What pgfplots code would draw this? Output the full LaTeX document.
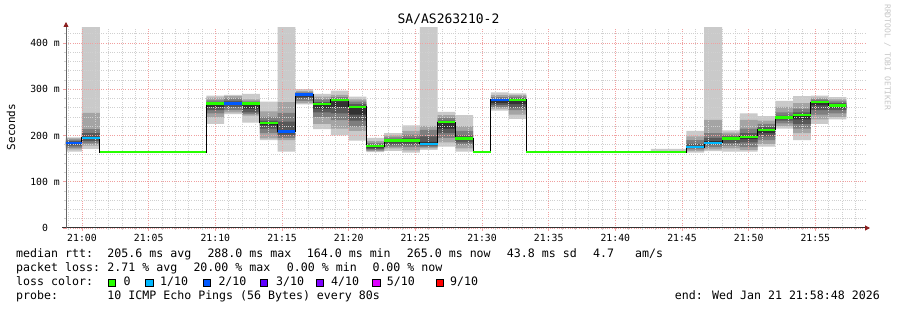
\documentclass[border=0pt]{standalone}
\usepackage{fontspec}
\usepackage{pgfplots}
\pgfplotsset{compat=1.18}
\usepackage{pgfplotstable}
\usepgfplotslibrary{fillbetween}
\usetikzlibrary{arrows.meta}
\newfontfamily\mono{DejaVu Sans Mono}
\definecolor{sm1}{RGB}{202,202,202}
\definecolor{sm2}{RGB}{164,164,164}
\definecolor{sm3}{RGB}{126,126,126}
\definecolor{sm4}{RGB}{88,88,88}
\definecolor{sm5}{RGB}{50,50,50}
\definecolor{lc0}{HTML}{26FF00}
\definecolor{lc1}{HTML}{00B8FF}
\definecolor{lc2}{HTML}{0059FF}
\definecolor{lc3}{HTML}{5E00FF}
\definecolor{lc4}{HTML}{7E00FF}
\definecolor{lc5}{HTML}{DD00FF}
\definecolor{lc9}{HTML}{FF0000}
\definecolor{mgrid}{RGB}{240,160,160}
\definecolor{ngrid}{RGB}{208,208,208}
\definecolor{arrowred}{RGB}{140,30,30}
\newcommand\lf{\mono\fontsize{11.6pt}{13pt}\selectfont}
\newcommand\tf{\mono\fontsize{9.8pt}{10pt}\selectfont}

\pgfplotstableread{
x p1 p2 p3 p4 p5 p6 p7 p8 p9 p10 med
-1.2 165 170 174 178 182 185 188 191 194 196 184
0 171 178 183 188 193 197 205 214 249 440 195
1.3333 164 164 164 164 164 164 164 164 164 164 164
2.6667 164 164 164 164 164 164 164 164 164 164 164
4 164 164 164 164 164 164 164 164 164 164 164
5.3333 164 164 164 164 164 164 164 164 164 164 164
6.6667 164 164 164 164 164 164 164 164 164 164 164
8 164 164 164 164 164 164 164 164 164 164 164
9.3333 225 239 248 255 262 270 272 276 282 286 269
10.6667 246 250 255 262 267 270 275 280 285 288 269
12 228 243 246 250 258 268 270 274 278 290 269
13.3333 190 194 205 215 222 228 232 240 252 273 227
14.6667 165 190 195 200 205 210 230 249 272 440 208
16 267 270 275 280 284 287 290 293 296 300 288
17.3333 214 225 240 250 258 268 272 278 284 290 268
18.6667 200 215 233 248 262 274 278 283 288 297 277
20 189 210 219 232 245 262 268 273 278 284 262
21.3333 164 166 168 171 174 177 180 184 188 195 177
22.6667 167 172 176 180 185 189 192 196 200 205 189
24 163 168 175 180 185 189 195 202 210 222 189
25.3333 169 172 175 178 182 186 198 212 221 440 182
26.6667 176 185 195 205 215 228 232 238 244 251 229
28 165 172 180 185 190 194 200 210 220 244 194
29.3333 164 164 164 164 164 164 164 164 164 164 164
30.6667 254 258 262 266 270 275 279 283 287 293 277
32 236 245 255 260 268 276 280 284 287 291 277
33.3333 164 164 164 164 164 164 164 164 164 164 164
34.6667 164 164 164 164 164 164 164 164 164 164 164
36 164 164 164 164 164 164 164 164 164 164 164
37.3333 164 164 164 164 164 164 164 164 164 164 164
38.6667 164 164 164 164 164 164 164 164 164 164 164
40 164 164 164 164 164 164 164 164 164 164 164
41.3333 164 164 164 164 164 164 164 164 164 164 164
42.6667 164 164 164 164 164 164 164 164 164 171 164
44 164 164 164 164 164 164 164 164 164 171 164
45.3333 163 166 170 173 175 177 182 190 198 210 175
46.6667 166 170 175 180 184 188 195 205 234 440 184
48 165 172 178 184 190 194 198 202 206 211 194
49.3333 165 169 175 185 192 197 205 215 234 248 197
50.6667 176 182 190 198 205 212 218 225 232 242 212
52 215 220 226 232 236 239 243 250 262 275 239
53.3333 190 205 215 225 235 244 250 258 270 285 244
54.6667 225 235 245 255 265 271 275 278 282 286 272
56 235 240 248 255 260 265 270 274 278 283 265
57.3333 235 240 248 255 260 265 270 274 278 283 265
}\smoke

\begin{document}
\begin{tikzpicture}[x=1pt,y=1pt]
\begin{axis}[
  at={(0pt,0pt)}, anchor=south west,
  scale only axis, width=800pt, height=200pt,
  xmin=-1.2, xmax=58.8, ymin=0, ymax=432.4,
  axis x line=bottom, axis y line=left,
  set layers,
  fill between/on layer=axis background,
  xtick={0,5,...,55},
  xticklabels={21:00,21:05,21:10,21:15,21:20,21:25,21:30,21:35,21:40,21:45,21:50,21:55},
  minor xtick={-1,1,2,3,4,6,7,8,9,11,12,13,14,16,17,18,19,21,22,23,24,26,27,28,29,31,32,33,34,36,37,38,39,41,42,43,44,46,47,48,49,51,52,53,54,56,57,58},
  ytick={0,100,200,300,400},
  yticklabels={0\hphantom{mm},100 m,200 m,300 m,400 m},
  minor ytick={20,40,60,80,120,140,160,180,220,240,260,280,320,340,360,380,420},
  grid=both,
  major grid style={draw=mgrid, dash pattern=on 1pt off 1.2pt, line width=0.6pt},
  minor grid style={draw=ngrid, dash pattern=on 1pt off 1.2pt, line width=0.6pt},
  tick align=outside,
  major tick length=3pt, minor tick length=2pt,
  major tick style={draw=mgrid, line width=0.8pt},
  minor tick style={draw=ngrid, line width=0.8pt},
  tick label style={font=\tf, text=black},
  xticklabel style={anchor=north, inner sep=0pt, yshift=-3pt},
  yticklabel style={anchor=east, inner sep=0pt, xshift=-3pt},
  x axis line style={draw=black!80, line width=1pt, shorten <=-4pt, shorten >=-4pt, -{Triangle[length=5pt,width=5pt,color=arrowred]}},
  y axis line style={draw=black!60, line width=0.8pt, shorten >=-6pt, -{Triangle[length=5pt,width=5pt,color=arrowred]}},
  unbounded coords=jump,
]
\addplot[draw=none, const plot, name path=a1] table[x=x,y=p1]{\smoke};
\addplot[draw=none, const plot, name path=a2] table[x=x,y=p2]{\smoke};
\addplot[draw=none, const plot, name path=a3] table[x=x,y=p3]{\smoke};
\addplot[draw=none, const plot, name path=a4] table[x=x,y=p4]{\smoke};
\addplot[draw=none, const plot, name path=a5] table[x=x,y=p5]{\smoke};
\addplot[draw=none, const plot, name path=a6] table[x=x,y=p6]{\smoke};
\addplot[draw=none, const plot, name path=a7] table[x=x,y=p7]{\smoke};
\addplot[draw=none, const plot, name path=a8] table[x=x,y=p8]{\smoke};
\addplot[draw=none, const plot, name path=a9] table[x=x,y=p9]{\smoke};
\addplot[draw=none, const plot, name path=a10] table[x=x,y=p10]{\smoke};
\addplot[fill=sm1, draw=none] fill between[of=a1 and a10];
\addplot[fill=sm2, draw=none] fill between[of=a2 and a9];
\addplot[fill=sm3, draw=none] fill between[of=a3 and a8];
\addplot[fill=sm4, draw=none] fill between[of=a4 and a7];
\addplot[fill=sm5, draw=none] fill between[of=a5 and a6];
\addplot[const plot, draw=black, line width=1pt] table[x=x,y=med]{\smoke};
\addplot[draw=lc0, line width=2.6pt] coordinates {
(1.3333,164)(9.3333,164)(9.3333,nan)
(9.3333,269)(10.6667,269)(10.6667,nan)
(12,269)(13.3333,269)(13.3333,nan)
(13.3333,227)(14.6667,227)(14.6667,nan)
(17.3333,268)(18.6667,268)(18.6667,nan)
(18.6667,277)(20,277)(20,nan)
(20,262)(21.3333,262)(21.3333,nan)
(21.3333,177)(22.6667,177)(22.6667,nan)
(22.6667,189)(25.3333,189)(25.3333,nan)
(26.6667,229)(28,229)(28,nan)
(28,194)(29.3333,194)(29.3333,nan)
(29.3333,164)(30.6667,164)(30.6667,nan)
(32,277)(33.3333,277)(33.3333,nan)
(33.3333,164)(45.3333,164)(45.3333,nan)
(48,194)(49.3333,194)(49.3333,nan)
(49.3333,197)(50.6667,197)(50.6667,nan)
(50.6667,212)(52,212)(52,nan)
(52,239)(53.3333,239)(53.3333,nan)
(53.3333,244)(54.6667,244)(54.6667,nan)
(54.6667,272)(56,272)(56,nan)
(56,265)(57.3333,265)
};
\addplot[draw=lc1, line width=2.6pt] coordinates {
(0,195)(1.3333,195)(1.3333,nan)
(25.3333,182)(26.6667,182)(26.6667,nan)
(45.3333,175)(46.6667,175)(46.6667,nan)
(46.6667,184)(48,184)
};
\addplot[draw=lc2, line width=2.6pt] coordinates {
(-1.2,184)(0,184)(0,nan)
(10.6667,269)(12,269)(12,nan)
(14.6667,208)(16,208)(16,nan)
(16,288)(17.3333,288)(17.3333,nan)
(30.6667,277)(32,277)
};
\end{axis}
% title, labels
\node[font=\mono\fontsize{13pt}{14pt}\selectfont, anchor=base] at (382.5,204) {SA/AS263210-2};
\node[font=\mono\fontsize{11pt}{12pt}\selectfont, rotate=90, anchor=center] at (-55,101) {Seconds};
\node[font=\mono\fontsize{8pt}{9pt}\selectfont, text=black!22, rotate=-90, anchor=west, inner sep=0pt] at (821.5,224) {RRDTOOL / TOBI OETIKER};
% legend lines
\begin{scope}[every node/.style={font=\lf, anchor=base west, inner sep=0pt}]
\node at (-50,-29.5) {median rtt:};
\node at (41.3,-29.5) {205.6 ms avg};
\node at (141.3,-29.5) {288.0 ms max};
\node at (240.7,-29.5) {164.0 ms min};
\node at (340.7,-29.5) {265.0 ms now};
\node at (440.7,-29.5) {43.8 ms sd};
\node at (527,-29.5) {4.7};
\node at (569,-29.5) {am/s};
\node at (-50,-43.5) {packet loss:};
\node at (41.3,-43.5) {2.71 \% avg};
\node at (127.3,-43.5) {20.00 \% max};
\node at (220.7,-43.5) {0.00 \% min};
\node at (306.3,-43.5) {0.00 \% now};
\node at (-50,-57.5) {loss color:};
\node at (57.3,-57.5) {0};
\node at (94,-57.5) {1/10};
\node at (152.3,-57.5) {2/10};
\node at (210,-57.5) {3/10};
\node at (265,-57.5) {4/10};
\node at (320.7,-57.5) {5/10};
\node at (384,-57.5) {9/10};
\node at (-50,-71.5) {probe:};
\node at (41.3,-71.5) {10 ICMP Echo Pings (56 Bytes) every 80s};
\node[anchor=base east] at (814,-71.5) {end: Wed Jan 21 21:58:48 2026};
\end{scope}
\foreach \bx/\c in {42.3/lc0,79.7/lc1,137.3/lc2,194/lc3,250/lc4,306.7/lc5,370/lc9}{
  \draw[fill=\c, draw=black, line width=0.6pt] (\bx,-58.3) rectangle ++(7.3,7.3);
}
\pgfresetboundingbox
\path[use as bounding box] (-66,-82) rectangle (831,228);
\end{tikzpicture}
\end{document}
